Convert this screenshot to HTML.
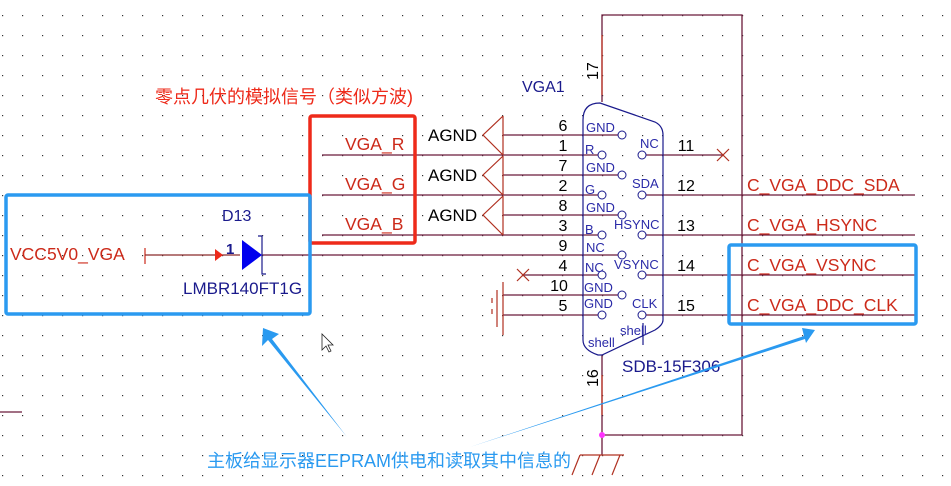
<!DOCTYPE html>
<html><head><meta charset="utf-8"><style>
html,body{margin:0;padding:0;background:#fff;}
svg{display:block;}
text{font-family:"Liberation Sans","Noto Sans CJK SC",sans-serif;}
</style></head><body>
<svg width="951" height="486" viewBox="0 0 951 486" xmlns="http://www.w3.org/2000/svg">
<defs>
<pattern id="g" x="0" y="0" width="20" height="20" patternUnits="userSpaceOnUse">
<rect x="2" y="15" width="1.2" height="1.2" fill="#333"/>
</pattern>
</defs>
<rect width="951" height="486" fill="#fff"/>
<rect width="951" height="486" fill="url(#g)"/>

<g stroke="#6b1a3a" stroke-width="1.3" fill="none">
<polyline points="602,102 602,15 742,15 742,435 602,435"/>
<line x1="602" y1="355" x2="602" y2="455"/>
<line x1="0" y1="412" x2="22" y2="412"/>
</g>
<line x1="602" y1="35" x2="602" y2="95" stroke="#c0392b" stroke-width="1.3"/>
<line x1="602" y1="375" x2="602" y2="415" stroke="#c0392b" stroke-width="1.3"/>
<circle cx="602" cy="435" r="3" fill="#ff33ff"/>
<g stroke="#b03020" stroke-width="1.2">
<line x1="580" y1="455" x2="624" y2="455"/>
<line x1="580" y1="455" x2="572" y2="475"/>
<line x1="600" y1="455" x2="592" y2="475"/>
<line x1="620" y1="455" x2="612" y2="475"/>
</g>
<text x="598" y="80" font-size="16" transform="rotate(-90 598 80)" fill="#000">17</text>
<text x="598" y="387" font-size="16" transform="rotate(-90 598 387)" fill="#000">16</text>

<g stroke="#6b1a3a" stroke-width="1.2">
<line x1="503" y1="135" x2="618" y2="135"/>
<line x1="322" y1="155" x2="598" y2="155"/>
<line x1="503" y1="175" x2="618" y2="175"/>
<line x1="322" y1="195" x2="598" y2="195"/>
<line x1="503" y1="215" x2="618" y2="215"/>
<line x1="322" y1="235" x2="598" y2="235"/>
<line x1="262" y1="255" x2="618" y2="255"/>
<line x1="523" y1="275" x2="598" y2="275"/>
<line x1="503" y1="295" x2="618" y2="295"/>
<line x1="503" y1="315" x2="598" y2="315"/>
<line x1="646" y1="155" x2="723" y2="155"/>
<line x1="646" y1="195" x2="915" y2="195"/>
<line x1="646" y1="235" x2="915" y2="235"/>
<line x1="646" y1="275" x2="915" y2="275"/>
<line x1="646" y1="315" x2="915" y2="315"/>
</g>
<g stroke="#b03020" stroke-width="1.2" fill="none">
<line x1="717" y1="149" x2="729" y2="161"/><line x1="717" y1="161" x2="729" y2="149"/>
<line x1="517" y1="269" x2="529" y2="281"/><line x1="517" y1="281" x2="529" y2="269"/>
<polyline points="503,116 483,135 503,155"/><line x1="503" y1="116" x2="503" y2="155"/>
<polyline points="503,156 483,175 503,195"/><line x1="503" y1="156" x2="503" y2="195"/>
<polyline points="503,196 483,215 503,235"/><line x1="503" y1="196" x2="503" y2="235"/>
<line x1="503" y1="282" x2="503" y2="335"/>
<line x1="497" y1="290" x2="497" y2="327"/>
<line x1="492" y1="298" x2="492" y2="303"/><line x1="492" y1="309" x2="492" y2="314"/>
</g>
<g font-size="17" fill="#000">
<text x="428" y="141">AGND</text><text x="428" y="181">AGND</text><text x="428" y="221">AGND</text>
</g>
<g font-size="16" fill="#000" text-anchor="middle">
<text x="563" y="131">6</text><text x="563" y="151">1</text><text x="563" y="171">7</text><text x="563" y="191">2</text>
<text x="563" y="211">8</text><text x="563" y="231">3</text><text x="563" y="251">9</text><text x="563" y="271">4</text>
<text x="559" y="291">10</text><text x="563" y="311">5</text>
<text x="686" y="151">11</text><text x="686" y="191">12</text><text x="686" y="231">13</text><text x="686" y="271">14</text><text x="686" y="311">15</text>
</g>

<path d="M583,120 Q583,103 600,103 L655,122 Q663,126 663,135 L663,320 Q663,325 655,330 L602,355 L598,355 Q583,350 583,340 Z" fill="none" stroke="#1a1a8c" stroke-width="1.2"/>
<line x1="643" y1="323" x2="643" y2="345" stroke="#1a1a8c" stroke-width="1.2"/>
<g fill="#fff" stroke="#1a1a8c" stroke-width="1">
<circle cx="622" cy="135" r="4"/><circle cx="602" cy="155" r="4"/><circle cx="622" cy="175" r="4"/><circle cx="602" cy="195" r="4"/>
<circle cx="622" cy="215" r="4"/><circle cx="602" cy="235" r="4"/><circle cx="622" cy="255" r="4"/><circle cx="602" cy="275" r="4"/>
<circle cx="622" cy="295" r="4"/><circle cx="602" cy="315" r="4"/>
<circle cx="642" cy="155" r="4"/><circle cx="642" cy="195" r="4"/><circle cx="642" cy="235" r="4"/><circle cx="642" cy="275" r="4"/><circle cx="642" cy="315" r="4"/>
</g>
<g font-size="13" fill="#2a2aa8">
<text x="586" y="132">GND</text><text x="585" y="154">R</text><text x="586" y="172">GND</text><text x="585" y="194">G</text>
<text x="586" y="212">GND</text><text x="585" y="234">B</text><text x="586" y="252">NC</text><text x="585" y="272">NC</text>
<text x="584" y="292">GND</text><text x="584" y="308">GND</text>
<text x="640" y="148">NC</text><text x="632" y="188">SDA</text><text x="614" y="229">HSYNC</text><text x="614" y="269">VSYNC</text><text x="632" y="308">CLK</text>
<text x="620" y="335">shell</text><text x="588" y="347">shell</text>
</g>
<text x="522" y="92" font-size="16" fill="#1a1a8c">VGA1</text>
<text x="622" y="372" font-size="17" fill="#1a1a8c">SDB-15F306</text>

<g font-size="17.5" fill="#cc2a1a">
<text x="345" y="150">VGA_R</text><text x="345" y="190">VGA_G</text><text x="345" y="230">VGA_B</text>
<text x="747" y="191">C_VGA_DDC_SDA</text><text x="747" y="231">C_VGA_HSYNC</text>
<text x="747" y="271">C_VGA_VSYNC</text><text x="747" y="311">C_VGA_DDC_CLK</text>
<text x="10" y="260">VCC5V0_VGA</text>
</g>
<text x="155" y="103" font-size="18" fill="#ee2a1a">零点几伏的模拟信号（类似方波)</text>

<line x1="145" y1="248" x2="145" y2="264" stroke="#cc2a1a" stroke-width="1.2"/>
<line x1="145" y1="255" x2="240" y2="255" stroke="#8b2a2a" stroke-width="1.2"/>
<polygon points="215,249 223,255 215,261" fill="#ee2a1a"/>
<polygon points="242,240 262,255 242,270" fill="#0000ee"/>
<polyline points="258,236 262,236 262,274 266,274" fill="none" stroke="#1a1a8c" stroke-width="1.2"/>
<text x="226" y="254" font-size="15" font-weight="bold" fill="#1a1a8c">1</text>
<text x="222" y="221" font-size="16" fill="#1a1a8c">D13</text>
<text x="183" y="294" font-size="17" fill="#1a1a8c">LMBR140FT1G</text>

<rect x="310" y="116" width="105" height="127" fill="none" stroke="#ee2a1a" stroke-width="3.5" rx="2"/>
<rect x="6" y="195" width="304" height="119" fill="none" stroke="#2a9af0" stroke-width="3.5" rx="2"/>
<rect x="729" y="245" width="187" height="79" fill="none" stroke="#2a9af0" stroke-width="3.5" rx="2"/>

<path d="M322,334 L322,350 L326,346 L329,352 L331,351 L328,345 L333,345 Z" fill="#fff" stroke="#222" stroke-width="0.8"/>

<polygon points="263,328 279,334 272,339 347,437 268,340 262,346" fill="#2a9af0"/>
<polygon points="470,447 804,336 802,328 815,330 806,343 805,339" fill="#2a9af0"/>
<text x="207" y="467" font-size="18" fill="#2a9af0">主板给显示器EEPRAM供电和读取其中信息的</text>
</svg>
</body></html>
